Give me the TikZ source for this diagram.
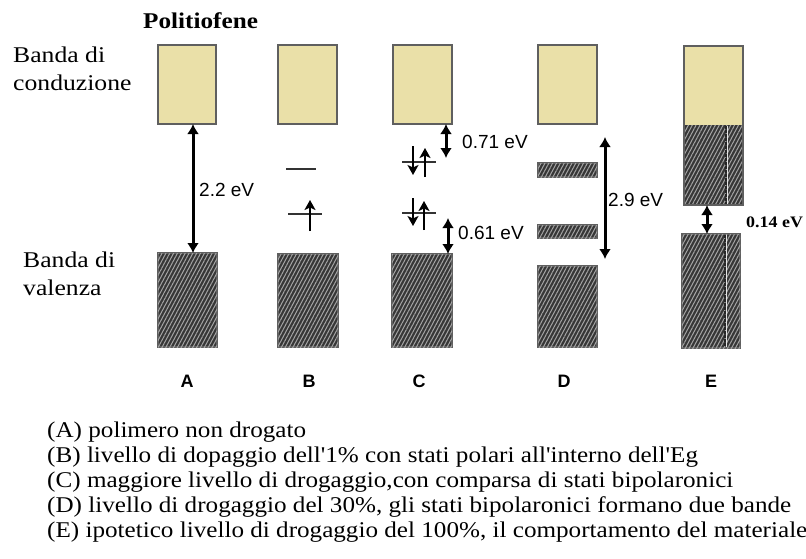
\documentclass[tikz,border=0pt]{standalone}
\usepackage{fontspec}
\setmainfont{Liberation Serif}
\newfontfamily\arialf{Liberation Sans}
\usetikzlibrary{patterns.meta,arrows.meta}
\definecolor{bandyellow}{RGB}{234,224,168}
\definecolor{bordergray}{RGB}{95,95,95}
\definecolor{hatchdark}{RGB}{55,55,55}
\definecolor{hatchlight}{RGB}{165,165,165}
\begin{document}
\begin{tikzpicture}[x=1pt,y=-1pt,
  cband/.style={draw=bordergray,line width=1.3pt,fill=bandyellow,inner sep=0,outer sep=0},
  vband/.style={draw=bordergray,line width=1.3pt,fill=hatchdark,inner sep=0,outer sep=0,
    postaction={pattern={Lines[angle=62,distance=3.4pt,line width=1pt]},pattern color=hatchlight}},
  serifbase/.style={font=\fontsize{22.5}{27}\selectfont,anchor=base west,inner sep=0},
  serif/.style={serifbase,xscale=1.14},
  capt/.style={serifbase,xscale=1.117},
  evlab/.style={font=\arialf\fontsize{19}{22}\selectfont,anchor=west,inner sep=0},
  lett/.style={font=\arialf\bfseries\fontsize{18}{20}\selectfont,inner sep=0},
  gap/.style={line width=3pt,{Latex[length=10pt,width=12pt]}-{Latex[length=10pt,width=12pt]}},
  spin/.style={line width=2.2pt,-{Stealth[length=10pt,width=11pt,inset=2.5pt]}},
  level/.style={line width=1.8pt,draw=black!80},
  divline/.style={black!85,line width=1.1pt,dash pattern=on 3pt off 1pt}]
\useasboundingbox[fill=white] (0,0) rectangle (806,558);

% side labels
\node[serifbase,xscale=1.12,font=\bfseries\fontsize{22.5}{27}\selectfont] (title) at (143,28) {Politiofene};
\node[serif] (bc1) at (13,62) {Banda di};
\node[serif] (bc2) at (13,90) {conduzione};
\node[serif] (bv1) at (23,267) {Banda di};
\node[serif] (bv2) at (23,295) {valenza};

% A
\node[cband,minimum width=58pt,minimum height=79pt] (Ac) at (187,84.5) {};
\node[vband,minimum width=59pt,minimum height=94pt] (Av) at (187.5,300) {};
\coordinate (ax) at (193,0);
\draw[gap] (ax |- Ac.south) -- (ax |- Av.north);
\node[evlab] (ga) at (199,190) {2.2 eV};

% B
\node[cband,minimum width=59pt,minimum height=79pt] (Bc) at (307.5,84.5) {};
\node[vband,minimum width=60pt,minimum height=93pt] (Bv) at (308,300.5) {};
\coordinate (b1l) at (286,169); \coordinate (b1r) at (316,169);
\draw[level] (b1l) -- (b1r);
\coordinate (b2l) at (288,214); \coordinate (b2r) at (322,214);
\draw[level] (b2l) -- (b2r);
\coordinate (bu0) at (310,231); \coordinate (bu1) at (310,200);
\draw[spin] (bu0) -- (bu1);

% C
\node[cband,minimum width=59pt,minimum height=79pt] (Cc) at (422.5,84.5) {};
\node[vband,minimum width=60pt,minimum height=93pt] (Cv) at (422,300.5) {};
\coordinate (c1l) at (402,162); \coordinate (c1r) at (436,162);
\draw[level] (c1l) -- (c1r);
\coordinate (cd10) at (413,146); \coordinate (cd11) at (413,175);
\draw[spin] (cd10) -- (cd11);
\coordinate (cu10) at (425,177); \coordinate (cu11) at (425,148);
\draw[spin] (cu10) -- (cu11);
\coordinate (c2l) at (402,213); \coordinate (c2r) at (436,213);
\draw[level] (c2l) -- (c2r);
\coordinate (cd20) at (413,198); \coordinate (cd21) at (413,226);
\draw[spin] (cd20) -- (cd21);
\coordinate (cu20) at (424,230); \coordinate (cu21) at (424,201);
\draw[spin] (cu20) -- (cu21);
\coordinate (cx1) at (446,158);
\draw[gap] (cx1 |- Cc.south) -- (cx1);
\node[evlab] (gc1) at (462,142) {0.71 eV};
\coordinate (cx2) at (448,218);
\draw[gap] (cx2) -- (cx2 |- Cv.north);
\node[evlab] (gc2) at (458,233) {0.61 eV};

% D
\node[cband,minimum width=59pt,minimum height=79pt] (Dc) at (567.5,84.5) {};
\node[vband,minimum width=59pt,minimum height=14pt] (Db1) at (567.5,170) {};
\node[vband,minimum width=59pt,minimum height=13pt] (Db2) at (567.5,231.5) {};
\node[vband,minimum width=59pt,minimum height=81pt] (Dv) at (567.5,306.5) {};
\coordinate (dt) at (605,137); \coordinate (db) at (605,259);
\draw[gap] (dt) -- (db);
\node[evlab] (gd) at (608,200) {2.9 eV};

% E
\node[fill=bandyellow,minimum width=59pt,minimum height=79pt,inner sep=0] (Ecy) at (713.5,85.5) {};
\node[fill=hatchdark,minimum width=59pt,minimum height=80pt,inner sep=0,
  postaction={pattern={Lines[angle=62,distance=3.4pt,line width=1pt]},pattern color=hatchlight}] (Ech) at (713.5,165) {};
\node[draw=bordergray,line width=1.3pt,minimum width=59pt,minimum height=159pt,inner sep=0,outer sep=0] (Ec) at (713.5,125.5) {};
\draw[white!80!gray,line width=1pt] (727.2,126) -- (727.2,204);
\draw[divline] (726,126) -- (726,204);
\node[vband,minimum width=58pt,minimum height=114pt] (Ev) at (711,291) {};
\draw[white!80!gray,line width=1pt] (726.2,235) -- (726.2,347);
\draw[divline] (725,235) -- (725,347);
\coordinate (ex) at (707,0);
\draw[gap] (ex |- Ec.south) -- (ex |- Ev.north);
\node[anchor=west,inner sep=0,font=\bfseries\fontsize{16}{18}\selectfont,xscale=1.12] (ge) at (746,222) {0.14 eV};

% letters
\node[lett] (la) at (187,381) {A};
\node[lett] (lb) at (309,381) {B};
\node[lett] (lc) at (419,381) {C};
\node[lett] (ld) at (564,381) {D};
\node[lett] (le) at (711,381) {E};

% captions
\node[capt] (ta) at (47,437) {(A) polimero non drogato};
\node[capt] (tb) at (47,462) {(B) livello di dopaggio dell\textquotesingle 1\% con stati polari all\textquotesingle interno dell\textquotesingle Eg};
\node[capt] (tc) at (47,487) {(C) maggiore livello di drogaggio,con comparsa di stati bipolaronici};
\node[capt] (td) at (47,512) {(D) livello di drogaggio del 30\%, gli stati bipolaronici formano due bande};
\node[capt] (te) at (47,537) {(E) ipotetico livello di drogaggio del 100\%, il comportamento del materiale};
\end{tikzpicture}
\end{document}
